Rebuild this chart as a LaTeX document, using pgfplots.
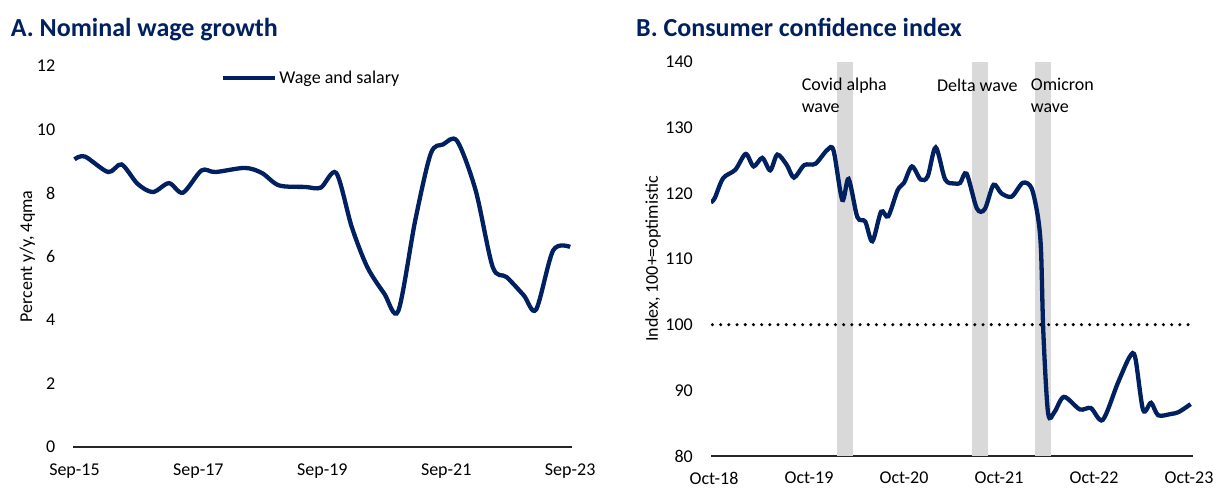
\documentclass[border=0pt]{standalone}
\usepackage{fontspec}
\setmainfont{Carlito}
\usepackage{pgfplots}
\pgfplotsset{compat=1.18}
\definecolor{navy}{HTML}{002060}
\definecolor{band}{HTML}{D9D9D9}
\definecolor{axisc}{HTML}{262626}
\pgfplotsset{
  mystyle/.style={
    scale only axis,
    axis lines=left,
    axis line style={-},
    y axis line style={draw=none},
    x axis line style={draw=axisc, line width=1.3pt},
    major tick length=0pt,
    tick label style={font=\fontsize{18}{21}\selectfont, text=black},
    label style={font=\fontsize{18}{21}\selectfont, text=black},
    /pgf/number format/assume math mode=true,
    xticklabel style={anchor=center, yshift=-24pt},
    yticklabel style={anchor=east, inner sep=0pt, xshift=-18pt},
  }
}
\begin{document}
\begin{tikzpicture}[x=1pt,y=1pt]
\useasboundingbox (0,0) rectangle (1214,488);
\node[anchor=base west, inner sep=0pt, font=\fontsize{26}{30}\selectfont\bfseries, text=navy] at (10.7,451.6) {A. Nominal wage growth};
\node[anchor=base west, inner sep=0pt, font=\fontsize{26}{30}\selectfont\bfseries, text=navy] at (636,451.6) {B. Consumer confidence index};

\begin{axis}[mystyle,
  at={(73.4pt,41pt)}, anchor=south west,
  width=498.3pt, height=381pt,
  xmin=-0.07, xmax=32.1, ymin=0, ymax=12,
  ytick={0,2,...,12},
  xtick={0,8,16,24,32},
  xticklabels={Sep-15,Sep-17,Sep-19,Sep-21,Sep-23},
  ylabel={Percent y/y, 4qma},
  ylabel style={at={(axis description cs:-0.0923,0.5)}, anchor=center},
  legend style={at={(axis description cs:0.296,0.9685)}, anchor=west, draw=none, fill=none, inner sep=0pt,
    font=\fontsize{18}{21}\selectfont, nodes={inner sep=2pt}},
  legend image code/.code={\draw[#1] (0pt,0pt) -- (52pt,0pt);},
]
\addplot[navy, line width=4.3pt, smooth, tension=0.5] coordinates {
(0,9.06) (0.67,9.15) (2.17,8.66) (3.04,8.9) (4.07,8.29) (5.06,8.03) (6.1,8.31) (7.0,8.01)
(8.2,8.71) (9.1,8.66) (11.0,8.79) (12.1,8.63) (13.2,8.24) (14.9,8.19) (15.9,8.17)
(16.9,8.63) (17.9,6.93) (18.9,5.67) (20.0,4.83) (20.9,4.28) (22.0,7.14) (23.0,9.24)
(23.8,9.53) (24.7,9.64) (25.9,8.08) (27.0,5.67) (27.9,5.35) (29.0,4.78) (29.8,4.33)
(30.9,6.19) (32.0,6.30)
};
\addlegendentry{Wage and salary}
\end{axis}

\begin{axis}[mystyle,
  at={(711pt,32pt)}, anchor=south west,
  width=482pt, height=394pt,
  xmin=-0.38, xmax=60.5, ymin=80, ymax=140,
  ytick={80,90,...,140},
  xtick={0,12,24,36,48,60},
  xticklabels={Oct-18,Oct-19,Oct-20,Oct-21,Oct-22,Oct-23},
  xticklabel style={yshift=2pt},
  ylabel={Index, 100+=optimistic},
  ylabel style={at={(axis description cs:-0.120,0.5)}, anchor=center},
]
\addplot[draw=none, fill=band] coordinates {(15.56,140) (17.53,140)} \closedcycle;
\addplot[draw=none, fill=band] coordinates {(32.6,140) (34.6,140)} \closedcycle;
\addplot[draw=none, fill=band] coordinates {(40.6,140) (42.6,140)} \closedcycle;
\addplot[black, line width=3.4pt, line cap=round, dash pattern=on 0pt off 8.2pt] coordinates {(-0.2,100) (60.3,100)};
\addplot[navy, line width=4.3pt, smooth, tension=0.5] coordinates {
(-0.4,118.6) (0.1,119.3) (1.15,122.3) (2.7,123.6) (4.0,126.0) (5.0,124.1) (6.1,125.4)
(7.1,123.5) (8.0,125.9) (9.2,124.3) (10.1,122.4) (11.4,124.3) (12.8,124.5) (14.3,126.6)
(15.1,126.5) (16.2,119.0) (17.0,122.2) (18.1,116.4) (19.1,115.7) (20.0,112.7) (21.1,117.2)
(22.0,116.5) (23.2,120.5) (24.0,121.6) (25.0,124.1) (26.1,122.1) (27.0,122.6) (28.0,127.0)
(29.2,122.1) (30.4,121.5) (31.1,121.6) (31.9,123.0) (33.2,117.7) (34.2,117.6) (35.3,121.3)
(36.3,120.0) (37.6,119.5) (39.0,121.6) (40.1,120.8) (40.9,116.5) (41.3,111.4) (41.6,98.7)
(42.2,86.5) (43.0,86.7) (44.2,89.0) (46.2,87.1) (47.6,87.3) (49.1,85.5) (51.0,91.1)
(52.5,95.1) (53.2,95.0) (54.2,87.0) (55.2,88.1) (56.1,86.2) (57.7,86.4) (58.7,86.7) (60.2,87.9)
};
\node[anchor=west, align=left, inner sep=0pt, font=\fontsize{18}{22}\selectfont] at (axis cs:11.06,134.9) {Covid alpha\\wave};
\node[anchor=west, align=left, inner sep=0pt, font=\fontsize{18}{22}\selectfont] at (axis cs:28.15,136.4) {Delta wave};
\node[anchor=west, align=left, inner sep=0pt, font=\fontsize{18}{22}\selectfont] at (axis cs:40.0,134.9) {Omicron\\wave};
\end{axis}
\end{tikzpicture}
\end{document}
